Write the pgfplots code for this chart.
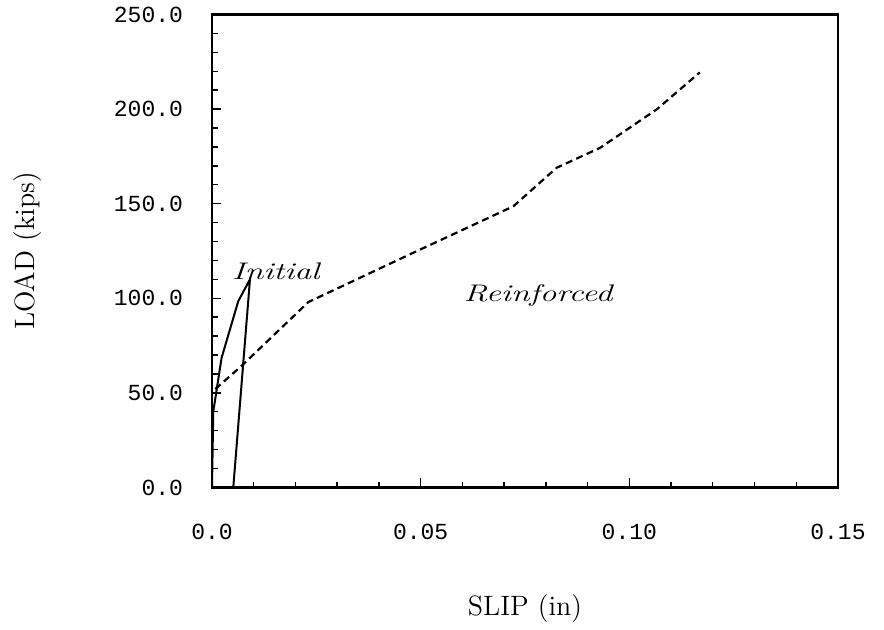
\documentclass[border=0pt]{standalone}
\usepackage{fontspec}
\usepackage{pgfplots}
\pgfplotsset{compat=1.18}
\newfontfamily\ticksfont{Liberation Mono}

\begin{document}
\begin{tikzpicture}
\begin{axis}[
    scale only axis,
    width=313pt, height=236.5pt,
    xmin=0, xmax=0.15,
    ymin=0, ymax=250,
    xtick={0,0.05,0.10,0.15},
    xticklabels={0.0,0.05,0.10,0.15},
    ytick={0,50,100,150,200,250},
    yticklabels={0.0,50.0,100.0,150.0,200.0,250.0},
    minor x tick num=4,
    minor y tick num=4,
    tick align=inside,
    tick pos=left,
    major tick length=4.5pt,
    minor tick length=2.8pt,
    every tick/.style={black, line width=0.7pt},
    axis line style={line width=1.3pt},
    tick label style={font=\ticksfont\fontsize{11.5}{14}\selectfont},
    x tick label style={yshift=-15pt},
    y tick label style={xshift=-11pt},
    xlabel={SLIP (in)},
    ylabel={LOAD (kips)},
    every axis x label/.style={at={(axis description cs:0.5,-0.256)}, anchor=center,
        font=\fontsize{14}{16}\selectfont},
    every axis y label/.style={at={(axis description cs:-0.294,0.5)}, rotate=90, anchor=center,
        font=\fontsize{14}{16}\selectfont},
    clip=false,
]
% Initial
\addplot[black, line width=1pt] coordinates {
    (0,0) (0.0003,40) (0.0023,68.5) (0.0063,98.5) (0.0091,110) (0.0051,0)
};
% Reinforced
\addplot[black, line width=1.1pt, dash pattern=on 3.5pt off 2.2pt] coordinates {
    (0.0008,52) (0.0071,64.3) (0.0231,98) (0.0474,123.2) (0.0722,148.6)
    (0.0826,169.0) (0.0930,179.5) (0.1066,199.9) (0.1169,219.4)
};
\node at (axis cs:0.0153,114.3) {\fontsize{12}{14}\selectfont\scalebox{1.4}[1]{\itshape Initial}};
\node at (axis cs:0.0781,101.3) {\fontsize{12}{14}\selectfont\scalebox{1.4}[1]{\itshape Reinforced}};
\end{axis}
\path (current axis.south west) ++(-106pt,-70pt) coordinate (bl);
\path (current axis.north east) ++(23pt,6.5pt) coordinate (tr);
\path (bl) rectangle (tr);
\end{tikzpicture}
\end{document}
